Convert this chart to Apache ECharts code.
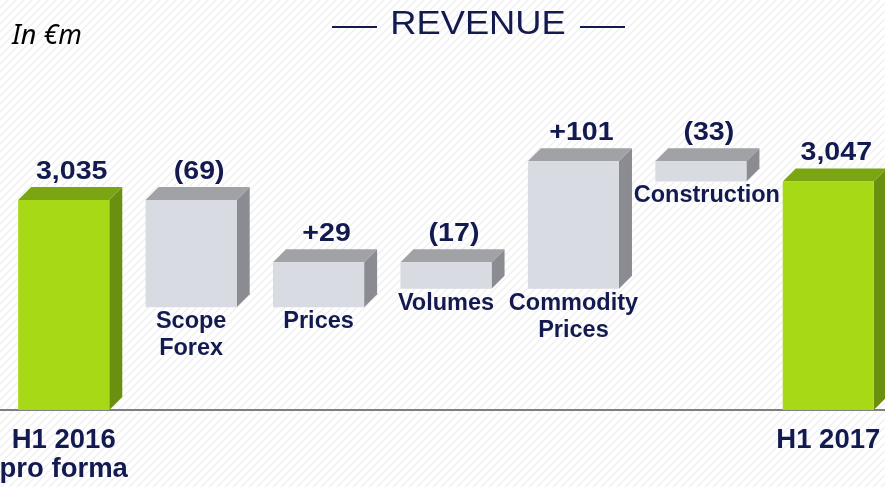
<!DOCTYPE html>
<html>
<head>
<meta charset="utf-8">
<script src="https://cdn.jsdelivr.net/npm/echarts@6/dist/echarts.min.js"></script>
<style>
  html, body { margin: 0; padding: 0; background: #fff; }
  #chart { width: 885px; height: 487px; }
</style>
</head>
<body>
<div id="chart"></div>
<script>
// Revenue bridge H1 2016 -> H1 2017 (in EUR m)
var categories = ['H1 2016\npro forma', 'Scope\nForex', 'Prices', 'Volumes', 'Commodity\nPrices', 'Construction', 'H1 2017'];
var valueLabels = ['3,035', '(69)', '+29', '(17)', '+101', '(33)', '3,047'];
// bar extents as drawn (bottom / top of each block)
var barLow = [0, 2966, 2966, 2978, 2978, 3047, 0];
var barHigh = [3035, 3035, 2995, 2995, 3060, 3060, 3047];
var barKind = ['total', 'delta', 'delta', 'delta', 'delta', 'delta', 'total'];

var Y_MIN = 2900;
var Y_MAX = 3100;
var NAVY = '#121a4f';
var FONT = '"Liberation Sans", Arial, sans-serif';

var colors = {
    total: { front: '#a8d916', top: '#7ba513', side: '#6b900f' },
    delta: { front: '#d8dbe2', top: '#a1a2a6', side: '#8b8c91' }
};

// striped background
function makeStripes() {
    var c = document.createElement('canvas');
    c.width = 8; c.height = 8;
    var ctx = c.getContext('2d');
    ctx.fillStyle = '#ffffff';
    ctx.fillRect(0, 0, 8, 8);
    ctx.strokeStyle = '#f0f0f0';
    ctx.lineWidth = 1.5;
    ctx.beginPath();
    ctx.moveTo(0, 8); ctx.lineTo(8, 0);
    ctx.moveTo(-4, 4); ctx.lineTo(4, -4);
    ctx.moveTo(4, 12); ctx.lineTo(12, 4);
    ctx.stroke();
    return c;
}

var barData = [];
for (var i = 0; i < categories.length; i++) {
    barData.push([i, barLow[i], barHigh[i]]);
}

function renderBar(params, api) {
    var i = params.dataIndex;
    var low = Math.max(api.value(1), Y_MIN);
    var high = api.value(2);
    var pTop = api.coord([i, high]);
    var pBot = api.coord([i, low]);
    var band = api.size([1, 0])[0];
    var w = band * 0.715;
    var d = 13;
    var x0 = pTop[0] - w / 2;
    var x1 = x0 + w;
    var yT = pTop[1];
    var yB = pBot[1];
    var c = colors[barKind[i]];

    var children = [
        {
            type: 'polygon',
            shape: { points: [[x1, yT], [x1 + d, yT - d], [x1 + d, yB - d], [x1, yB]] },
            style: { fill: c.side }
        },
        {
            type: 'polygon',
            shape: { points: [[x0, yT], [x0 + d, yT - d], [x1 + d, yT - d], [x1, yT]] },
            style: { fill: c.top }
        },
        {
            type: 'rect',
            shape: { x: x0, y: yT, width: w, height: yB - yT },
            style: { fill: c.front }
        },
        {
            type: 'text',
            x: pTop[0] + 8,
            y: yT - d - 15,
            scaleX: 1.12,
            style: {
                text: valueLabels[i],
                x: 0,
                y: 0,
                align: 'center',
                verticalAlign: 'middle',
                fill: NAVY,
                font: 'bold 25.5px ' + FONT
            }
        }
    ];

    if (barKind[i] === 'delta') {
        children.push({
            type: 'text',
            style: {
                text: categories[i],
                x: pTop[0] + (i === 5 ? 6 : 0),
                y: yB + 1,
                align: 'center',
                verticalAlign: 'top',
                fill: NAVY,
                font: 'bold 23.5px ' + FONT,
                lineHeight: 27
            }
        });
    }

    return { type: 'group', children: children };
}

var myChart = echarts.init(document.getElementById('chart'));

var option = {
    backgroundColor: { image: makeStripes(), repeat: 'repeat' },
    animation: false,
    grid: { left: 0, right: -7, top: 99, bottom: 77, containLabel: false, outerBoundsMode: 'none' },
    xAxis: {
        type: 'category',
        data: categories,
        axisTick: { show: false },
        axisLine: { lineStyle: { color: '#7f7f7f', width: 2 } },
        axisLabel: {
            interval: 0,
            margin: 16,
            color: NAVY,
            fontFamily: FONT,
            fontWeight: 'bold',
            fontSize: 27.5,
            lineHeight: 29,
            formatter: function (value, index) {
                return barKind[index] === 'total' ? value : '';
            }
        }
    },
    yAxis: {
        type: 'value',
        show: false,
        min: Y_MIN,
        max: Y_MAX,
        splitLine: { show: false }
    },
    graphic: [
        {
            type: 'text',
            left: 12,
            top: 23,
            style: { text: 'In €m', fill: '#000', font: 'italic 27px "Noto Sans", sans-serif' }
        },
        {
            type: 'text',
            x: 478,
            y: 25,
            scaleX: 1.1,
            style: {
                text: 'REVENUE',
                x: 0,
                y: 0,
                align: 'center',
                verticalAlign: 'middle',
                fill: NAVY,
                font: '33px ' + FONT
            }
        },
        { type: 'line', shape: { x1: 332, y1: 27, x2: 377, y2: 27 }, style: { stroke: NAVY, lineWidth: 2 } },
        { type: 'line', shape: { x1: 580, y1: 27, x2: 625, y2: 27 }, style: { stroke: NAVY, lineWidth: 2 } }
    ],
    series: [
        {
            type: 'custom',
            renderItem: renderBar,
            encode: { x: 0, y: [1, 2] },
            clip: false,
            data: barData
        }
    ]
};

myChart.setOption(option);
</script>
</body>
</html>
